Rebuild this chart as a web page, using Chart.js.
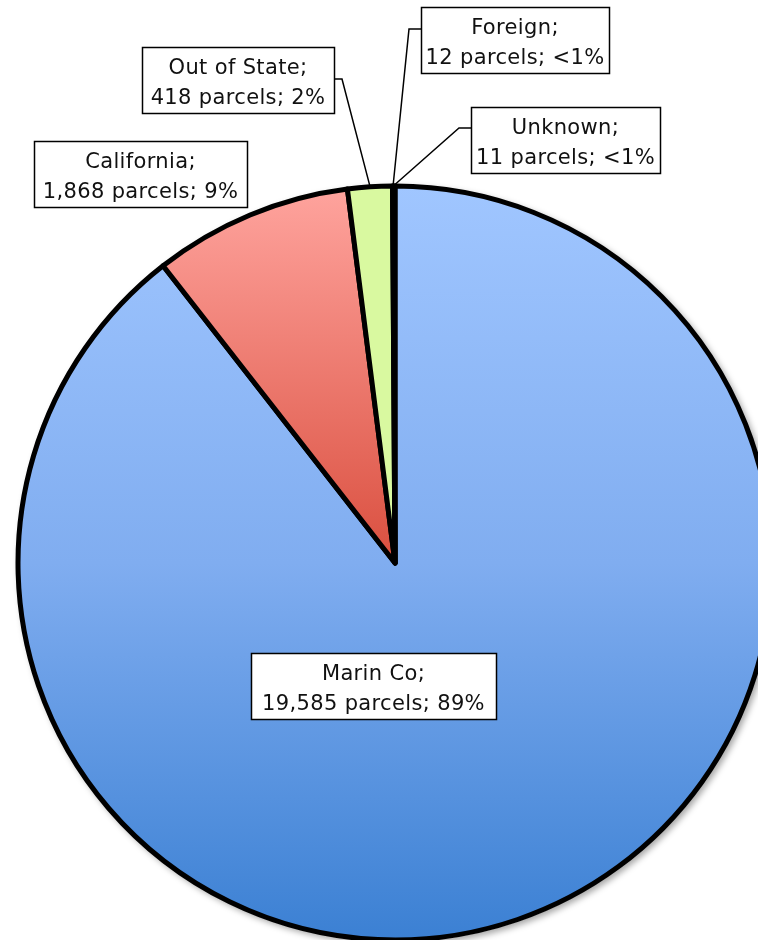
<!DOCTYPE html>
<html>
<head>
<meta charset="utf-8">
<script src="https://cdn.jsdelivr.net/npm/chart.js@4.4.0/dist/chart.umd.min.js"></script>
<style>
  html, body { margin: 0; padding: 0; background: #fff; overflow: hidden; }
  #wrap { width: 758px; height: 940px; position: relative; }
</style>
</head>
<body>
<div id="wrap"><canvas id="ownerChart"></canvas></div>
<script>
// parcel owner location, clockwise from 12 o'clock
const categories = ["Marin Co", "California", "Out of State", "Foreign", "Unknown"];
const parcels = [19585, 1868, 418, 12, 11];
const shareText = ["89%", "9%", "2%", "<1%", "<1%"];

// label boxes (left, top, width) and where the leader line bends
const labelBoxes = [
  { x: 251, y: 653, w: 245, leader: null },
  { x: 34, y: 141, w: 213, leader: null },
  { x: 142, y: 47, w: 192, leader: { side: "right", dy: 32, elbow: 8 } },
  { x: 421, y: 7, w: 188, leader: { side: "left", dy: 22, elbow: 12 } },
  { x: 471, y: 107, w: 189, leader: { side: "left", dy: 21, elbow: 12 } },
];

const PIE_R = 377;

function sliceFill(ctx) {
  const chart = ctx.chart;
  const area = chart.chartArea;
  const i = ctx.dataIndex;
  const flat = ["#85b3f3", "#f08478", "#d9f9a0", "#b9a6d3", "#fbc592"];
  if (!area) return flat[i];
  const cy = (area.top + area.bottom) / 2;
  const c = chart.ctx;
  if (i === 0) {
    const g = c.createLinearGradient(0, cy - PIE_R, 0, cy + PIE_R);
    g.addColorStop(0, "#a0c6ff");
    g.addColorStop(0.5, "#80adf0");
    g.addColorStop(1, "#3b80d3");
    return g;
  }
  if (i === 1) {
    const g = c.createLinearGradient(0, cy - PIE_R, 0, cy);
    g.addColorStop(0, "#ffa49e");
    g.addColorStop(1, "#da4f3f");
    return g;
  }
  return flat[i];
}

const pieShadow = {
  id: "pieShadow",
  beforeDatasetsDraw(chart) {
    const arc = chart.getDatasetMeta(0).data[0];
    if (!arc) return;
    const c = chart.ctx;
    c.save();
    c.shadowColor = "rgba(0,0,0,0.35)";
    c.shadowBlur = 6;
    c.shadowOffsetX = 3;
    c.shadowOffsetY = 3;
    c.fillStyle = "#fff";
    c.beginPath();
    c.arc(arc.x, arc.y, arc.outerRadius + 2, 0, Math.PI * 2);
    c.fill();
    c.restore();
  },
};

const calloutLabels = {
  id: "calloutLabels",
  afterDatasetsDraw(chart) {
    const c = chart.ctx;
    const arcs = chart.getDatasetMeta(0).data;
    c.save();
    c.lineWidth = 1.5;
    c.strokeStyle = "#000";
    c.font = "21px 'DejaVu Sans', sans-serif";
    c.letterSpacing = "0.35px";
    c.textAlign = "center";
    c.textBaseline = "alphabetic";
    labelBoxes.forEach(function (box, i) {
      const h = 66;
      const arc = arcs[i];
      if (box.leader && arc) {
        const mid = (arc.startAngle + arc.endAngle) / 2;
        const ex = arc.x + Math.cos(mid) * (arc.outerRadius + 1);
        const ey = arc.y + Math.sin(mid) * (arc.outerRadius + 1);
        const sx = box.leader.side === "right" ? box.x + box.w : box.x;
        const sy = box.y + box.leader.dy;
        const bx = box.leader.side === "right" ? sx + box.leader.elbow : sx - box.leader.elbow;
        c.beginPath();
        c.moveTo(sx, sy);
        c.lineTo(bx, sy);
        c.lineTo(ex, ey);
        c.stroke();
      }
      c.fillStyle = "#fff";
      c.fillRect(box.x, box.y, box.w, h);
      c.strokeRect(box.x + 0.5, box.y + 0.5, box.w, h);
      c.fillStyle = "#111";
      const cx = box.x + box.w / 2;
      c.fillText(categories[i] + ";", cx, box.y + 27);
      c.fillText(parcels[i].toLocaleString("en-US") + " parcels; " + shareText[i], cx, box.y + 57);
    });
    c.restore();
  },
};

new Chart(document.getElementById("ownerChart"), {
  type: "pie",
  data: {
    labels: categories,
    datasets: [
      {
        data: parcels,
        backgroundColor: sliceFill,
        borderColor: "#000",
        borderWidth: 5,
        borderJoinStyle: "round",
        radius: PIE_R,
        clip: false,
      },
    ],
  },
  options: {
    responsive: true,
    maintainAspectRatio: false,
    animation: false,
    layout: { padding: { left: 32, right: 0, top: 186, bottom: 0 } },
    plugins: {
      legend: { display: false },
      tooltip: { enabled: false },
      title: { display: false },
    },
  },
  plugins: [pieShadow, calloutLabels],
});
</script>
</body>
</html>
